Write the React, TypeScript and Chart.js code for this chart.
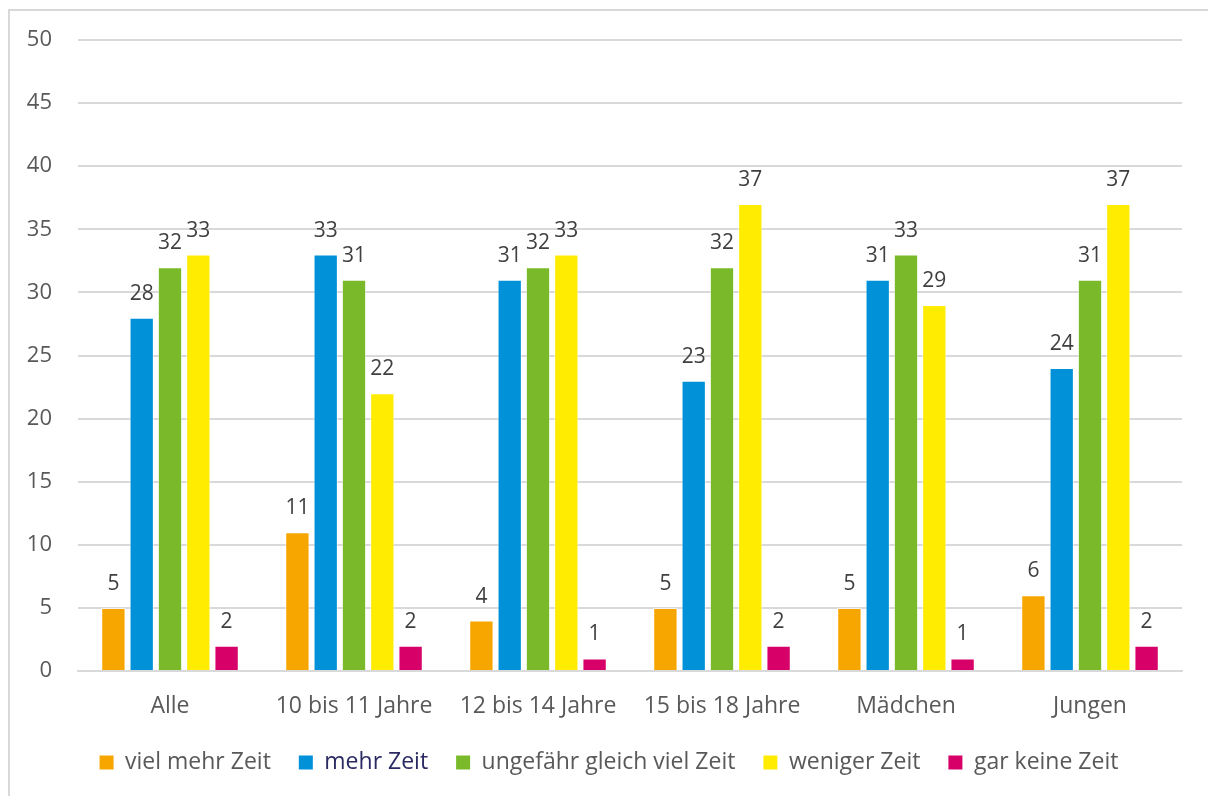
import React, { useEffect, useRef } from "react";
import { Chart, registerables } from "chart.js";

Chart.register(...registerables);

const categories = ["Alle", "10 bis 11 Jahre", "12 bis 14 Jahre", "15 bis 18 Jahre", "Mädchen", "Jungen"];
const seriesNames = ["viel mehr Zeit", "mehr Zeit", "ungefähr gleich viel Zeit", "weniger Zeit", "gar keine Zeit"];
const vielMehrZeit = [5, 11, 4, 5, 5, 6];
const mehrZeit = [28, 33, 31, 23, 31, 24];
const gleichVielZeit = [32, 31, 32, 32, 33, 31];
const wenigerZeit = [33, 22, 33, 37, 29, 37];
const garKeineZeit = [2, 2, 1, 2, 1, 2];
const seriesColors = ["#F7A600", "#0091D9", "#7AB929", "#FFEC00", "#D60068"];
const legendTextColors = ["#595959", "#2B2A63", "#595959", "#595959", "#595959"];

const FONT = "'Open Sans', sans-serif";

const framePlugin = {
  id: "frame",
  beforeDraw(chart: any) {
    const ctx = chart.ctx;
    ctx.save();
    ctx.fillStyle = "#ffffff";
    ctx.fillRect(0, 0, chart.width, chart.height);
    ctx.strokeStyle = "#d9d9d9";
    ctx.lineWidth = 2;
    ctx.strokeRect(9, 10, 3000, 3000);
    ctx.restore();
  },
};

const legendShiftPlugin = {
  id: "legendShift",
  afterLayout(chart: any) {
    const lg = chart.legend;
    if (lg) {
      lg.left += 18;
      lg.right += 18;
    }
  },
};

const valueLabelPlugin = {
  id: "valueLabels",
  afterDatasetsDraw(chart: any) {
    const ctx = chart.ctx;
    ctx.save();
    ctx.font = `21px ${FONT}`;
    ctx.fillStyle = "#404040";
    ctx.textAlign = "center";
    ctx.textBaseline = "alphabetic";
    chart.data.datasets.forEach((ds: any, i: number) => {
      const meta = chart.getDatasetMeta(i);
      meta.data.forEach((el: any, j: number) => {
        ctx.fillText(String(ds.data[j]), el.x, el.y - 18);
      });
    });
    ctx.restore();
  },
};

export default function App() {
  const ref = useRef<HTMLCanvasElement | null>(null);
  useEffect(() => {
    if (!ref.current) return;
    const allSeries = [vielMehrZeit, mehrZeit, gleichVielZeit, wenigerZeit, garKeineZeit];
    const chart = new Chart(ref.current, {
      type: "bar",
      data: {
        labels: categories,
        datasets: allSeries.map((d, i) => ({
          label: seriesNames[i],
          data: d,
          backgroundColor: seriesColors[i],
          borderColor: "rgba(255,255,255,0.6)",
          borderWidth: 1,
          categoryPercentage: 0.769,
          barPercentage: 0.86,
        })),
      },
      options: {
        animation: false,
        responsive: false,
        layout: { padding: { left: 0, right: 26, top: 40, bottom: 12 } },
        plugins: {
          tooltip: { enabled: false },
          legend: {
            position: "bottom",
            labels: {
              boxWidth: 14,
              boxHeight: 14,
              padding: 28,
              font: { family: FONT, size: 23 },
              color: "#595959",
              generateLabels(chart: any) {
                return chart.data.datasets.map((ds: any, i: number) => ({
                  text: ds.label,
                  fillStyle: seriesColors[i],
                  strokeStyle: seriesColors[i],
                  lineWidth: 0,
                  fontColor: legendTextColors[i],
                  datasetIndex: i,
                  hidden: false,
                }));
              },
            },
          },
        },
        scales: {
          x: {
            grid: { display: false },
            border: { display: true, color: "#d9d9d9", width: 2 },
            ticks: { font: { family: FONT, size: 23 }, color: "#595959", padding: 14 },
            afterFit(scale: any) {
              scale.height = 52;
            },
          },
          y: {
            min: 0,
            max: 50,
            ticks: { stepSize: 5, font: { family: FONT, size: 22 }, color: "#595959", padding: 26 },
            grid: { color: "#d9d9d9", lineWidth: 2, drawTicks: false },
            border: { display: false },
            afterFit(scale: any) {
              scale.width = 78;
              scale.paddingTop = 0;
              scale.paddingBottom = 0;
            },
          },
        },
      },
      plugins: [framePlugin, legendShiftPlugin, valueLabelPlugin],
    } as any);
    return () => chart.destroy();
  }, []);
  return (
    <div style={{ position: "fixed", left: 0, top: 0, width: 1208, height: 796, background: "#fff" }}>
      <canvas ref={ref} width={1208} height={796} style={{ display: "block" }} />
    </div>
  );
}
